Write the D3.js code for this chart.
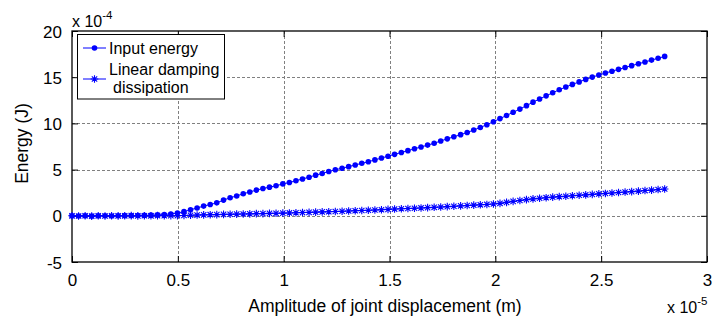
<!DOCTYPE html>
<html>
<head>
<meta charset="utf-8">
<script src="https://cdn.jsdelivr.net/npm/d3@7"></script>
<style>
  html, body { margin: 0; padding: 0; background: #fff; }
  svg { display: block; font-family: "Liberation Sans", Arial, sans-serif; }
</style>
</head>
<body>
<svg id="chart" width="713" height="321"></svg>
<script>
// Amplitude of joint displacement, in units of 1e-5 m
const amplitude = [
  0.000, 0.031, 0.062, 0.093, 0.124, 0.156, 0.187, 0.218, 0.249, 0.280,
  0.311, 0.342, 0.373, 0.404, 0.436, 0.467, 0.498, 0.529, 0.560, 0.591,
  0.622, 0.653, 0.684, 0.716, 0.747, 0.778, 0.809, 0.840, 0.871, 0.902,
  0.933, 0.964, 0.996, 1.027, 1.058, 1.089, 1.120, 1.151, 1.182, 1.213,
  1.244, 1.276, 1.307, 1.338, 1.369, 1.400, 1.431, 1.462, 1.493, 1.524,
  1.556, 1.587, 1.618, 1.649, 1.680, 1.711, 1.742, 1.773, 1.804, 1.836,
  1.867, 1.898, 1.929, 1.960, 1.991, 2.022, 2.053, 2.084, 2.116, 2.147,
  2.178, 2.209, 2.240, 2.271, 2.302, 2.333, 2.364, 2.396, 2.427, 2.458,
  2.489, 2.520, 2.551, 2.582, 2.613, 2.644, 2.676, 2.707, 2.738, 2.769,
  2.800
];

// Input energy, in units of 1e-4 J
const inputEnergy = [
  0.00, -0.02, 0.00, -0.03, 0.00, 0.01, -0.02, 0.01, 0.02, 0.03,
  0.04, 0.05, 0.07, 0.10, 0.14, 0.20, 0.30, 0.45, 0.65, 0.85,
  1.05, 1.22, 1.40, 1.70, 1.95, 2.15, 2.38, 2.58, 2.78, 2.95,
  3.10, 3.25, 3.45, 3.60, 3.80, 3.98, 4.18, 4.40, 4.58, 4.80,
  4.98, 5.15, 5.32, 5.50, 5.68, 5.85, 6.05, 6.25, 6.45, 6.65,
  6.85, 7.05, 7.25, 7.45, 7.65, 7.85, 8.10, 8.33, 8.55, 8.78,
  9.02, 9.28, 9.56, 9.86, 10.18, 10.52, 10.86, 11.20, 11.55, 11.92,
  12.30, 12.64, 12.98, 13.32, 13.64, 13.94, 14.22, 14.49, 14.76, 15.01,
  15.23, 15.45, 15.65, 15.85, 16.05, 16.25, 16.45, 16.65, 16.85, 17.05,
  17.25
];

// Linear damping dissipation, in units of 1e-4 J
const dampingDissipation = [
  0.00, -0.02, 0.01, -0.03, 0.00, -0.02, 0.01, -0.01, 0.00, 0.02,
  -0.01, 0.01, 0.00, 0.02, 0.01, 0.02, 0.02, 0.04, 0.06, 0.08,
  0.10, 0.12, 0.13, 0.15, 0.17, 0.18, 0.20, 0.21, 0.23, 0.24,
  0.26, 0.27, 0.29, 0.31, 0.33, 0.35, 0.37, 0.40, 0.42, 0.44,
  0.47, 0.49, 0.52, 0.55, 0.57, 0.60, 0.63, 0.66, 0.70, 0.73,
  0.76, 0.79, 0.82, 0.85, 0.88, 0.92, 0.95, 0.99, 1.03, 1.07,
  1.11, 1.15, 1.19, 1.23, 1.28, 1.35, 1.45, 1.56, 1.66, 1.75,
  1.83, 1.90, 1.96, 2.02, 2.07, 2.12, 2.17, 2.22, 2.27, 2.32,
  2.37, 2.42, 2.47, 2.52, 2.57, 2.62, 2.67, 2.73, 2.78, 2.84,
  2.90
];

const xTicks = [0, 0.5, 1, 1.5, 2, 2.5, 3];
const yTicks = [-5, 0, 5, 10, 15, 20];
const seriesNames = ["Input energy", "Linear damping", "dissipation"];

const svg = d3.select("#chart");
const plot = { left: 72, top: 31, right: 707, bottom: 262 };
const blue = "#0000ff";

const x = d3.scaleLinear().domain([0, 3]).range([plot.left, plot.right]);
const y = d3.scaleLinear().domain([-5, 20]).range([plot.bottom, plot.top]);

// plain hyphen-minus tick labels
const fmt = d => String(d);

// grid lines
const grid = svg.append("g").attr("stroke", "#808080").attr("stroke-width", 1)
  .attr("stroke-dasharray", "3,2").attr("shape-rendering", "crispEdges");
grid.selectAll("line.gx").data(xTicks.slice(1, -1)).join("line")
  .attr("x1", d => Math.round(x(d)) + 0.5).attr("x2", d => Math.round(x(d)) + 0.5)
  .attr("y1", plot.top).attr("y2", plot.bottom);
grid.selectAll("line.gy").data(yTicks.slice(1, -1)).join("line")
  .attr("y1", d => Math.round(y(d)) + 0.5).attr("y2", d => Math.round(y(d)) + 0.5)
  .attr("x1", plot.left).attr("x2", plot.right);

// axes with inward ticks on all four sides
const tickLen = 6;
const fontSize = 17;
const axB = svg.append("g").attr("transform", `translate(0,${plot.bottom})`)
  .call(d3.axisBottom(x).tickValues(xTicks).tickSize(-tickLen).tickPadding(12).tickFormat(fmt));
const axT = svg.append("g").attr("transform", `translate(0,${plot.top})`)
  .call(d3.axisTop(x).tickValues(xTicks).tickSize(-tickLen).tickFormat(""));
const axL = svg.append("g").attr("transform", `translate(${plot.left},0)`)
  .call(d3.axisLeft(y).tickValues(yTicks).tickSize(-tickLen).tickPadding(10).tickFormat(fmt));
const axR = svg.append("g").attr("transform", `translate(${plot.right},0)`)
  .call(d3.axisRight(y).tickValues(yTicks).tickSize(-tickLen).tickFormat(""));
[axB, axT, axL, axR].forEach(a => {
  a.select(".domain").remove();
  a.selectAll("line").attr("stroke", "#000");
  a.selectAll("text").attr("font-size", fontSize).attr("fill", "#000")
    .attr("font-family", "Liberation Sans, Arial, sans-serif");
});
axL.selectAll("text").attr("dy", "0.36em");

// box
svg.append("rect").attr("x", plot.left).attr("y", plot.top)
  .attr("width", plot.right - plot.left).attr("height", plot.bottom - plot.top)
  .attr("fill", "none").attr("stroke", "#000").attr("stroke-width", 1.3);

// series
const line = d3.line().x(d => x(d[0])).y(d => y(d[1]));
const ptsInput = amplitude.map((a, i) => [a, inputEnergy[i]]);
const ptsDamp = amplitude.map((a, i) => [a, dampingDissipation[i]]);

const starPath = r => {
  const s = r * 0.7071;
  return `M${-r},0L${r},0M0,${-r}L0,${r}M${-s},${-s}L${s},${s}M${-s},${s}L${s},${-s}`;
};

svg.append("path").datum(ptsDamp).attr("d", line)
  .attr("fill", "none").attr("stroke", blue).attr("stroke-width", 1);
svg.append("g").selectAll("path").data(ptsDamp).join("path")
  .attr("transform", d => `translate(${x(d[0])},${y(d[1])})`)
  .attr("d", starPath(3.8)).attr("stroke", blue).attr("stroke-width", 1.1).attr("fill", "none");

svg.append("path").datum(ptsInput).attr("d", line)
  .attr("fill", "none").attr("stroke", blue).attr("stroke-width", 1);
svg.append("g").selectAll("circle").data(ptsInput).join("circle")
  .attr("cx", d => x(d[0])).attr("cy", d => y(d[1])).attr("r", 2.8).attr("fill", blue);

// axis labels
svg.append("text").attr("x", 385).attr("y", 312).attr("text-anchor", "middle")
  .attr("font-size", 17.5).text("Amplitude of joint displacement (m)");
svg.append("text").attr("transform", "translate(28,143.5) rotate(-90)").attr("text-anchor", "middle")
  .attr("font-size", 17.5).text("Energy (J)");

// exponent labels
const expo = (xPos, yPos, p) => {
  const t = svg.append("text").attr("x", xPos).attr("y", yPos).attr("font-size", 16);
  t.append("tspan").text("x 10");
  t.append("tspan").attr("dy", -8).attr("font-size", 11.5).text(p);
};
expo(72, 27, "-4");
expo(667, 313, "-5");

// legend
const lg = svg.append("g");
lg.append("rect").attr("x", 77.5).attr("y", 34.5).attr("width", 147).attr("height", 64.5)
  .attr("fill", "#fff").attr("stroke", "#000").attr("stroke-width", 1);
lg.append("line").attr("x1", 83).attr("x2", 106).attr("y1", 48).attr("y2", 48)
  .attr("stroke", blue).attr("stroke-width", 1);
lg.append("circle").attr("cx", 94.5).attr("cy", 48).attr("r", 2.8).attr("fill", blue);
lg.append("line").attr("x1", 83).attr("x2", 106).attr("y1", 79).attr("y2", 79)
  .attr("stroke", blue).attr("stroke-width", 1);
lg.append("path").attr("transform", "translate(94.5,79)").attr("d", starPath(3.8))
  .attr("stroke", blue).attr("stroke-width", 1.1).attr("fill", "none");
lg.append("text").attr("x", 109).attr("y", 54).attr("font-size", 16).text(seriesNames[0]);
lg.append("text").attr("x", 109).attr("y", 75).attr("font-size", 16).text(seriesNames[1]);
lg.append("text").attr("x", 113).attr("y", 93).attr("font-size", 16).text(seriesNames[2]);
</script>
</body>
</html>
